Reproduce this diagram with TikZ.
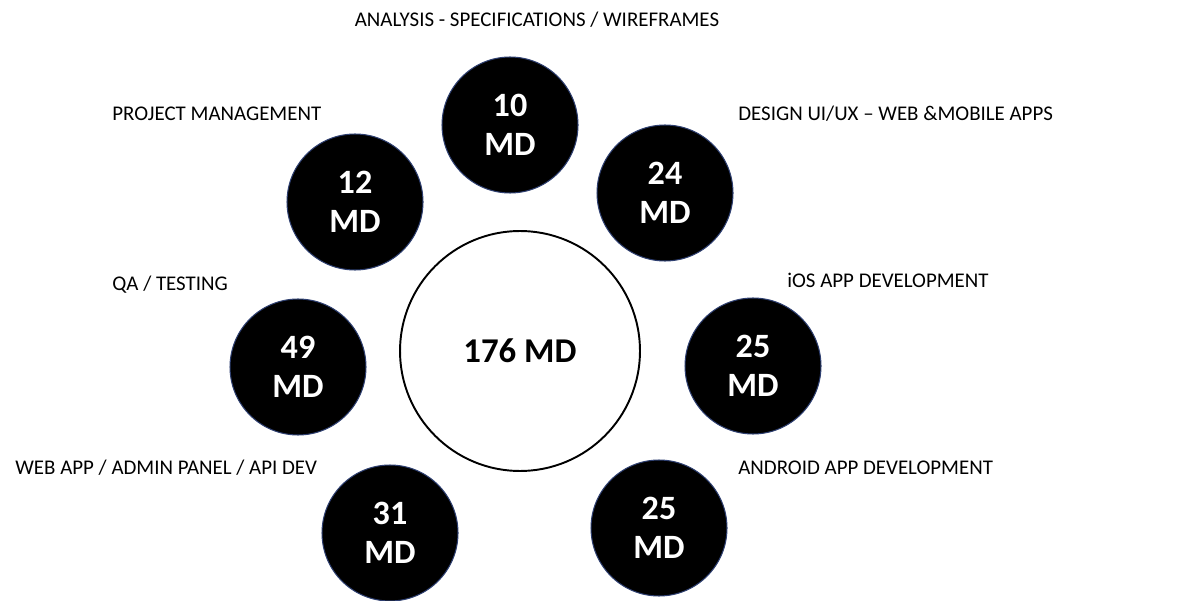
\documentclass[tikz,border=0pt]{standalone}
\usepackage{fontspec}
\setmainfont{Carlito}
\usepackage{tikz}
\usetikzlibrary{positioning}
\definecolor{EffortBlack}{HTML}{000000}
\definecolor{EffortRim}{HTML}{2E3F70}

\begin{document}
\begin{tikzpicture}[x=0.02cm,y=-0.02cm,
    phase/.style={circle,fill=EffortBlack,draw=EffortRim,line width=0.6pt,minimum size=2.72cm,inner sep=0pt,
      text=white,font=\fontsize{19.4}{22.5}\selectfont\bfseries,align=center},
    total/.style={circle,draw=black,line width=1.1pt,minimum size=4.8cm,inner sep=0pt,font=\fontsize{19.8}{22}\selectfont\bfseries},
    caption/.style={font=\fontsize{11.9}{13}\selectfont,inner sep=0pt}]
  \useasboundingbox (0,0) rectangle (1200,601);
  \node[total] (sum) at (520,351) {176 MD};
  \node[phase] (analysis) at (510,125) {10\\MD};
  \node[phase] (pm) at (355,202) {12\\MD};
  \node[phase] (design) at (665,193) {24\\MD};
  \node[phase] (qa) at (298,367) {49\\MD};
  \node[phase] (ios) at (753,366) {25\\MD};
  \node[phase] (web) at (390,533) {31\\MD};
  \node[phase] (android) at (659,528) {25\\MD};
  % labels
  \node[caption] (analysislbl) at (537,20) {ANALYSIS - SPECIFICATIONS / WIREFRAMES};
  \node[caption,anchor=west] (pmlbl) at (112,114) {PROJECT MANAGEMENT};
  \node[caption,anchor=west] (designlbl) at (738,114) {DESIGN UI/UX -- WEB \&MOBILE APPS};
  \node[caption,anchor=west] (qalbl) at (112,285) {QA / TESTING};
  \node[caption,anchor=west] (ioslbl) at (787,280) {iOS APP DEVELOPMENT};
  \node[caption,anchor=west] (weblbl) at (15,468) {WEB APP / ADMIN PANEL / API DEV};
  \node[caption,anchor=west] (androidlbl) at (738,468) {ANDROID APP DEVELOPMENT};
\end{tikzpicture}
\end{document}
